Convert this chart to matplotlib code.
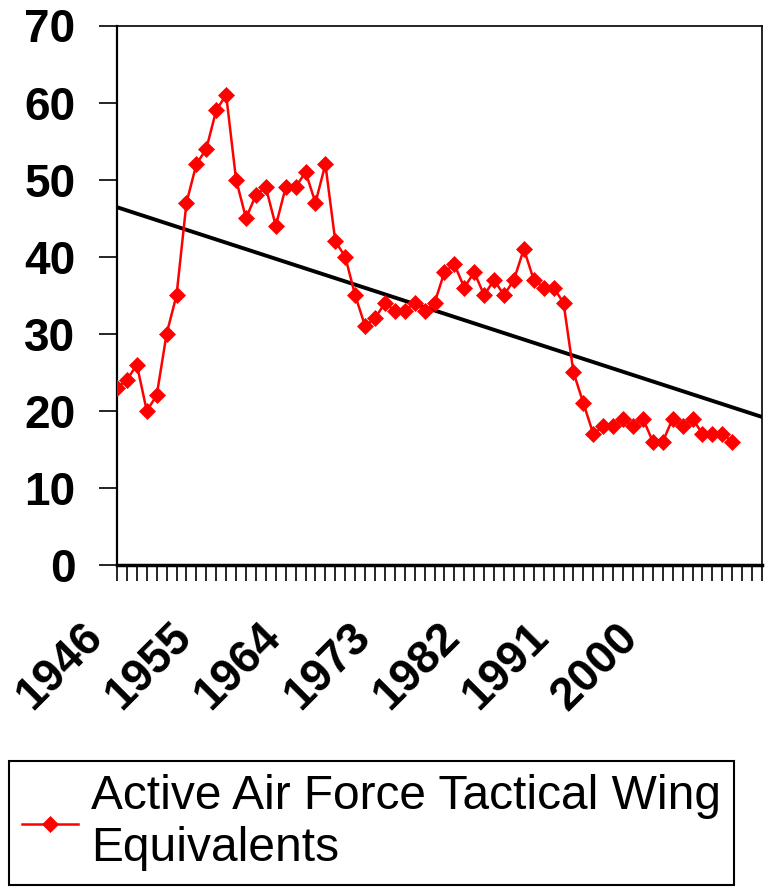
import numpy as np
import matplotlib
matplotlib.use("Agg")
import matplotlib.pyplot as plt
import matplotlib.transforms as mtransforms

plt.rcParams['font.family'] = ['Liberation Sans', 'DejaVu Sans']

# Active Air Force tactical wing equivalents, 1946-2008
years = list(range(1946, 2009))
wings = [23, 24, 26, 20, 22, 30, 35, 47, 52, 54,
         59, 61, 50, 45, 48, 49, 44, 49, 49, 51,
         47, 52, 42, 40, 35, 31, 32, 34, 33, 33,
         34, 33, 34, 38, 39, 36, 38, 35, 37, 35,
         37, 41, 37, 36, 36, 34, 25, 21, 17, 18,
         18, 19, 18, 19, 16, 16, 19, 18, 19, 17,
         17, 17, 16]
forecast_periods = 3
label_years = [1946, 1955, 1964, 1973, 1982, 1991, 2000]
y_ticks = [0, 10, 20, 30, 40, 50, 60, 70]
series_name = "Active Air Force Tactical Wing\nEquivalents"

x = np.arange(len(years))
n_cat = len(years) + forecast_periods
x_trend = np.arange(n_cat)
slope, intercept = np.polyfit(x, wings, 1)

fig = plt.figure(figsize=(7.68, 8.91), dpi=100)
ax = fig.add_axes([117/768, 1 - 565/891, (762 - 117)/768, (565 - 25.5)/891])

ax.plot(x_trend, slope*x_trend + intercept, color='black', lw=2.8, zorder=2)
line, = ax.plot(x, wings, color='red', lw=1.8, marker='D', ms=8.3,
                mec='red', mfc='red', mew=0.5, zorder=3, label=series_name)

ax.set_xlim(0, n_cat - 1)
ax.set_ylim(0, 70)
ax.set_yticks(y_ticks)
ax.set_yticklabels([str(v) for v in y_ticks], fontsize=33, fontweight='bold')
ax.tick_params(axis='y', direction='out', length=13, width=1.2, pad=17)

# category ticks on every year, labels every 9 years
ax.set_xticks(x_trend)
ax.set_xticklabels([])
ax.tick_params(axis='x', direction='out', length=11.5, width=1.2)
lab_trans = mtransforms.offset_copy(ax.get_xaxis_transform(), fig=fig,
                                    x=-37, y=-50, units='dots')
for yr in label_years:
    ax.text(yr - years[0], 0, str(yr), transform=lab_trans,
            fontsize=33, fontweight='bold', rotation=45,
            ha='right', va='top', rotation_mode='anchor', clip_on=False)

for side in ['top', 'right']:
    ax.spines[side].set_linewidth(1.2)
ax.spines['left'].set_linewidth(1.6)
ax.spines['bottom'].set_linewidth(2.5)

leg = fig.legend(handles=[line], loc='upper left',
                 bbox_to_anchor=(9/768, 1 - 761/891), borderaxespad=0,
                 fontsize=34.5, handlelength=1.15, handletextpad=0.28,
                 borderpad=0.28, fancybox=False, framealpha=1,
                 edgecolor='black')
leg.get_frame().set_linewidth(1.5)
leg.get_texts()[0].set_linespacing(1.2)

fig.savefig('out.png', dpi=100)
